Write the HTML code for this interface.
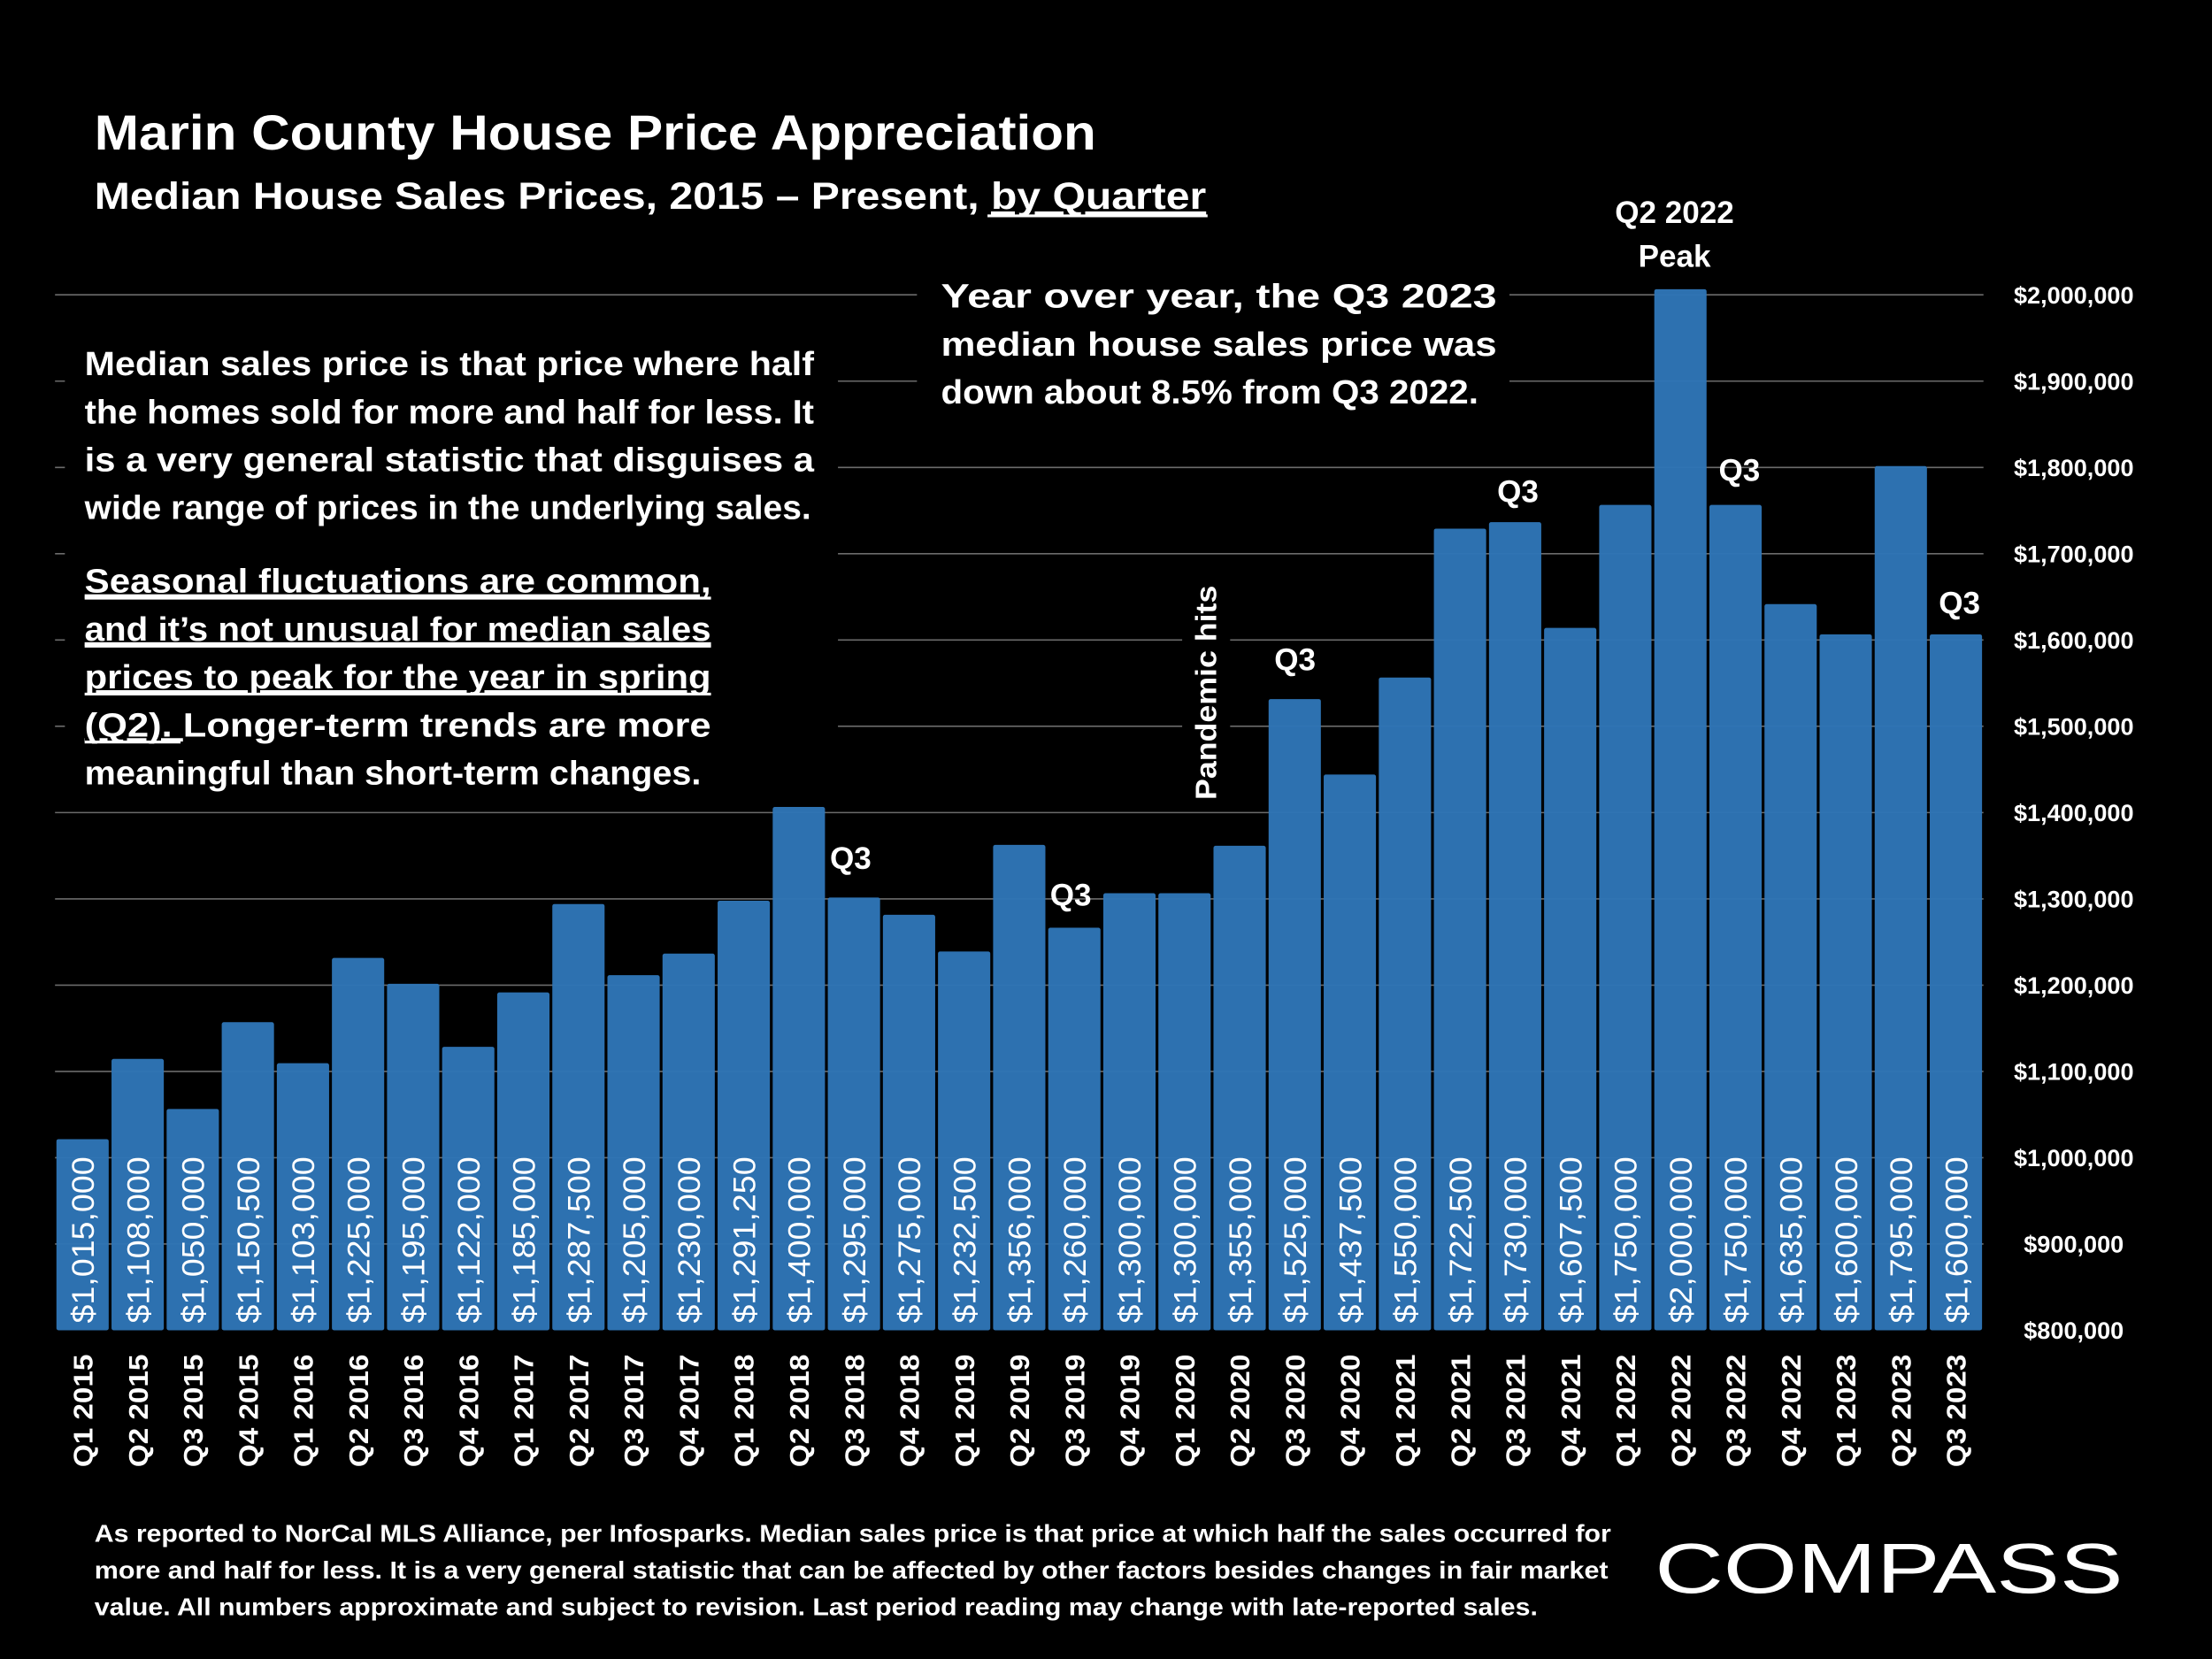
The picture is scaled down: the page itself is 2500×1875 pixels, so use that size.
<!DOCTYPE html>
<html><head><meta charset="utf-8">
<style>
html,body{margin:0;padding:0;background:#000;}
svg{display:block;}
text{font-family:"Liberation Sans",sans-serif;fill:#fff;}
</style></head>
<body>
<svg id="chart" width="2500" height="1875" viewBox="0 0 1568 1176" xmlns="http://www.w3.org/2000/svg">
<rect x="0" y="0" width="1568" height="1176" fill="#000"/>
<g id="grid"></g>
<g id="bars"></g>
<g id="yaxis"></g>
<g id="xaxis"></g>

<text x="67" y="106" font-size="35" font-weight="bold" textLength="710" lengthAdjust="spacingAndGlyphs">Marin County House Price Appreciation</text>
<text x="67" y="148" font-size="27" font-weight="bold" textLength="788" lengthAdjust="spacingAndGlyphs">Median House Sales Prices, 2015 – Present, <tspan text-decoration="underline">by Quarter</tspan></text>
<line x1="700" y1="153" x2="856" y2="153" stroke="#fff" stroke-width="2"/>

<g>
<rect x="46" y="238" width="548" height="330" fill="#000"/>
<g font-size="24" font-weight="bold">
<text x="60" y="266" textLength="517" lengthAdjust="spacingAndGlyphs">Median sales price is that price where half</text>
<text x="60" y="300" textLength="517" lengthAdjust="spacingAndGlyphs">the homes sold for more and half for less. It</text>
<text x="60" y="334" textLength="517" lengthAdjust="spacingAndGlyphs">is a very general statistic that disguises a</text>
<text x="60" y="368" textLength="515" lengthAdjust="spacingAndGlyphs">wide range of prices in the underlying sales.</text>
<text x="60" y="420" textLength="444" lengthAdjust="spacingAndGlyphs" text-decoration="underline">Seasonal fluctuations are common,</text>
<text x="60" y="454" textLength="444" lengthAdjust="spacingAndGlyphs" text-decoration="underline">and it’s not unusual for median sales</text>
<text x="60" y="488" textLength="444" lengthAdjust="spacingAndGlyphs" text-decoration="underline">prices to peak for the year in spring</text>
<text x="60" y="522" textLength="444" lengthAdjust="spacingAndGlyphs"><tspan text-decoration="underline">(Q2). </tspan> Longer-term trends are more</text>
<text x="60" y="556" textLength="437" lengthAdjust="spacingAndGlyphs">meaningful than short-term changes.</text>
</g>
<g stroke="#fff" stroke-width="2">
<line x1="60" y1="424" x2="504" y2="424"/>
<line x1="60" y1="458" x2="504" y2="458"/>
<line x1="60" y1="492" x2="504" y2="492"/>
<line x1="60" y1="526" x2="128" y2="526"/>
</g>
</g>

<g>
<rect x="650" y="192" width="420" height="102" fill="#000"/>
<g font-size="24" font-weight="bold">
<text x="667" y="218" textLength="394" lengthAdjust="spacingAndGlyphs">Year over year, the Q3 2023</text>
<text x="667" y="252" textLength="394" lengthAdjust="spacingAndGlyphs">median house sales price was</text>
<text x="667" y="286" textLength="381" lengthAdjust="spacingAndGlyphs">down about 8.5% from Q3 2022.</text>
</g>
</g>

<g>
<rect x="838" y="410" width="34" height="160" fill="#000"/>
<text transform="translate(862,567) rotate(-90)" font-size="21" font-weight="bold" textLength="152" lengthAdjust="spacingAndGlyphs">Pandemic hits</text>
</g>

<g font-size="22" font-weight="bold" text-anchor="middle">
<text x="603" y="616">Q3</text>
<text x="759" y="642">Q3</text>
<text x="918" y="475">Q3</text>
<text x="1076" y="356">Q3</text>
<text x="1233" y="341">Q3</text>
<text x="1389" y="435">Q3</text>
<text x="1187" y="158">Q2 2022</text>
<text x="1187" y="189">Peak</text>
</g>

<g font-size="17.5" font-weight="bold">
<text x="67" y="1093" textLength="1075" lengthAdjust="spacingAndGlyphs">As reported to NorCal MLS Alliance, per Infosparks. Median sales price is that price at which half the sales occurred for</text>
<text x="67" y="1119" textLength="1073" lengthAdjust="spacingAndGlyphs">more and half for less. It is a very general statistic that can be affected by other factors besides changes in fair market</text>
<text x="67" y="1145" textLength="1023" lengthAdjust="spacingAndGlyphs">value. All numbers approximate and subject to revision. Last period reading may change with late-reported sales.</text>
</g>
<text x="1173" y="1129" font-size="50" textLength="332" lengthAdjust="spacingAndGlyphs">COMPASS</text>

<script>
const categories = ["Q1 2015","Q2 2015","Q3 2015","Q4 2015","Q1 2016","Q2 2016","Q3 2016","Q4 2016","Q1 2017","Q2 2017","Q3 2017","Q4 2017","Q1 2018","Q2 2018","Q3 2018","Q4 2018","Q1 2019","Q2 2019","Q3 2019","Q4 2019","Q1 2020","Q2 2020","Q3 2020","Q4 2020","Q1 2021","Q2 2021","Q3 2021","Q4 2021","Q1 2022","Q2 2022","Q3 2022","Q4 2022","Q1 2023","Q2 2023","Q3 2023"];
const prices = [1015000,1108000,1050000,1150500,1103000,1225000,1195000,1122000,1185000,1287500,1205000,1230000,1291250,1400000,1295000,1275000,1232500,1356000,1260000,1300000,1300000,1355000,1525000,1437500,1550000,1722500,1730000,1607500,1750000,2000000,1750000,1635000,1600000,1795000,1600000];
const yTicks = [800000,900000,1000000,1100000,1200000,1300000,1400000,1500000,1600000,1700000,1800000,1900000,2000000];
const yMin = 800000, yMax = 2000000;
const plotTop = 209, plotBottom = 943, plotLeft = 39, plotRight = 1406;
const NS = "http://www.w3.org/2000/svg";
function yScale(v){ return plotBottom - (v - yMin) / (yMax - yMin) * (plotBottom - plotTop); }
const band = (plotRight - plotLeft) / categories.length;
function xScale(i){ return plotLeft + i * band; }
function fmt(v){ return "$" + v.toLocaleString("en-US"); }
function mk(tag, attrs, parent){ const e = document.createElementNS(NS, tag); for (const k in attrs) e.setAttribute(k, attrs[k]); parent.appendChild(e); return e; }

const grid = document.getElementById("grid"), bars = document.getElementById("bars"), yaxis = document.getElementById("yaxis"), xaxis = document.getElementById("xaxis");
yTicks.forEach(t => {
  const y = yScale(t);
  if (t > yMin) {
    const l = mk("line", {x1: plotLeft, x2: plotRight, y1: y, y2: y, stroke: "#6b6b6b", "stroke-width": 1}, grid);
    
    
  }
  const tx = mk("text", {x: 1470, y: y + 6, "font-size": 17, "font-weight": "bold", "text-anchor": "middle"}, yaxis);
  tx.textContent = fmt(t);
  
  
});
prices.forEach((v, i) => {
  const x = xScale(i) + 1, w = band - 2, y = yScale(v) - 4;
  const r = mk("rect", {x: x, y: y, width: w, height: plotBottom - y, fill: "#2e75b6", "fill-opacity": 0.97, rx: 1.5}, bars);
  
  
  const cx = xScale(i) + band / 2;
  const vl = mk("text", {transform: "translate(" + (cx + 8) + ",938) rotate(-90)", "font-size": 22, textLength: 118, lengthAdjust: "spacingAndGlyphs"}, bars);
  vl.textContent = fmt(v);
  
  
  const xl = mk("text", {transform: "translate(" + (cx + 7) + ",1040) rotate(-90)", "font-size": 19, "font-weight": "bold", textLength: 80, lengthAdjust: "spacingAndGlyphs"}, xaxis);
  xl.textContent = categories[i];
  
  
});
</script>
</svg>
</body></html>
